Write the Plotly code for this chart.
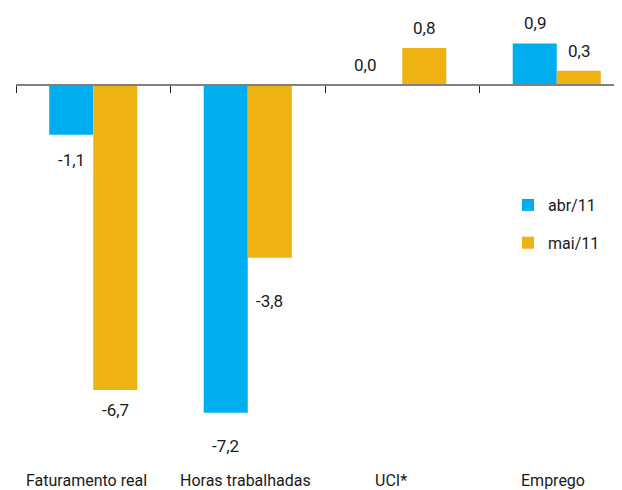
import plotly.graph_objects as go

categories = ["Faturamento real", "Horas trabalhadas", "UCI*", "Emprego"]
abr_11 = [-1.1, -7.2, 0.0, 0.9]
mai_11 = [-6.7, -3.8, 0.8, 0.3]
series_names = ["abr/11", "mai/11"]

CYAN = "#00AEEF"
GOLD = "#EFB213"
TEXT = "#1a1a1a"
FONT = "Roboto, sans-serif"
FS = 17

# the page body adds an 8px offset, so the figure is 8px smaller each way
W, H = 614, 482
ML, MB = 8, 50
plot_w, plot_h = W - ML, H - MB
px_per_unit = 45.6
zero_px = 76.5
y_top = zero_px / px_per_unit
y_bot = -(plot_h - zero_px) / px_per_unit
zero_frac = -y_bot / (y_top - y_bot)


def fmt(v):
    return f"{v:.1f}".replace(".", ",")


fig = go.Figure()
for name, vals, color in [(series_names[0], abr_11, CYAN), (series_names[1], mai_11, GOLD)]:
    fig.add_trace(go.Bar(
        x=categories, y=vals, name=name,
        marker=dict(color=color, line=dict(width=0)),
        legendgroup=name,
    ))

# value labels (a few sit further from their bar in the original)
extra_gap = {(0, 0): 5, (0, 1): 13, (1, 1): 23}
extra_x = {(0, 2): -15}
for si, (vals, shift) in enumerate([(abr_11, -22), (mai_11, 22)]):
    for ci, (cat, v) in enumerate(zip(categories, vals)):
        gap = 20 + extra_gap.get((si, ci), 0)
        fig.add_annotation(
            x=cat, y=v, xref="x", yref="y",
            text=fmt(v), showarrow=False,
            xshift=shift + extra_x.get((si, ci), 0),
            yshift=gap if v >= 0 else -gap,
            xanchor="center", yanchor="middle",
            font=dict(family=FONT, size=FS, color=TEXT),
        )

# category labels under the chart
label_x = [86.5, 245.5, 391, 553]
for cat, px in zip(categories, label_x):
    fig.add_annotation(
        x=(px - 16) / plot_w, y=0, xref="paper", yref="paper",
        text=cat, showarrow=False, xanchor="center", yanchor="middle", yshift=-40,
        font=dict(family=FONT, size=16, color=TEXT),
    )

fig.update_layout(
    width=W, height=H,
    margin=dict(l=ML, r=0, t=0, b=MB),
    paper_bgcolor="white", plot_bgcolor="white",
    barmode="group", bargap=0.43, bargroupgap=0,
    showlegend=True,
    legend=dict(
        x=(508 - 16) / plot_w, y=1 - 180 / plot_h, xanchor="left", yanchor="top",
        font=dict(family=FONT, size=16, color=TEXT),
        tracegroupgap=14, bgcolor="rgba(0,0,0,0)",
    ),
    xaxis=dict(
        range=[-0.5, -0.5 + plot_w / 154.5],
        anchor="free", position=zero_frac,
        showline=True, linecolor="#808080", linewidth=2,
        ticks="outside", tickson="boundaries", ticklen=7, tickwidth=1, tickcolor="#222222",
        showticklabels=False, showgrid=False, zeroline=False,
    ),
    yaxis=dict(
        range=[y_bot, y_top], visible=False, showgrid=False, zeroline=False,
    ),
)

fig.write_html("out.html")
